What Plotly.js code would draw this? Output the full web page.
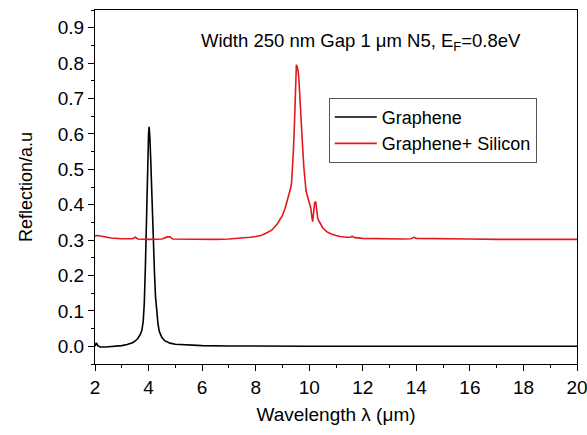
<!DOCTYPE html>
<html>
<head>
<meta charset="utf-8">
<script src="https://cdn.plot.ly/plotly-3.0.1.min.js"></script>
<style>html,body{margin:0;padding:0;background:#fff;}#chart{width:587px;height:435px;}</style>
</head>
<body>
<div id="chart"></div>
<script>
// Graphene (black)
const grapheneX = [2.0, 2.05, 2.1, 2.2, 2.4, 2.6, 2.8, 3.0, 3.2, 3.4, 3.5, 3.6, 3.7, 3.75, 3.8, 3.84, 3.88, 3.92, 3.96, 4.0, 4.02, 4.05, 4.08, 4.12, 4.15, 4.18, 4.22, 4.26, 4.3, 4.35, 4.4, 4.5, 4.6, 4.8, 5.0, 5.5, 6.0, 7.0, 8.0, 10, 12, 14, 16, 18, 20];
const grapheneY = [0.0, 0.01, 0.002, -0.002, -0.002, -0.001, 0.0, 0.002, 0.005, 0.01, 0.015, 0.022, 0.035, 0.045, 0.07, 0.12, 0.22, 0.38, 0.53, 0.6, 0.62, 0.59, 0.53, 0.42, 0.35, 0.3, 0.21, 0.14, 0.1, 0.065, 0.042, 0.025, 0.016, 0.009, 0.006, 0.003, 0.002, 0.001, 0.0, 0.0, 0.0, 0.0, 0.0, 0.0, 0.0];

// Graphene + Silicon (red)
const siliconX = [2.0, 2.1, 2.3, 2.6, 3.0, 3.4, 3.5, 3.6, 4.0, 4.5, 4.7, 4.8, 4.9, 5.5, 6.5, 7.0, 7.5, 7.8, 8.0, 8.2, 8.4, 8.6, 8.8, 8.9, 9.0, 9.1, 9.2, 9.25, 9.3, 9.34, 9.38, 9.41, 9.44, 9.46, 9.48, 9.5, 9.52, 9.55, 9.58, 9.61, 9.64, 9.68, 9.72, 9.76, 9.8, 9.84, 9.88, 9.92, 9.97, 10.02, 10.06, 10.1, 10.13, 10.16, 10.2, 10.24, 10.28, 10.32, 10.4, 10.5, 10.65, 10.8, 11.0, 11.15, 11.4, 11.55, 11.6, 11.7, 12.0, 12.5, 13.0, 13.5, 13.8, 13.9, 14.0, 14.5, 15, 16, 17, 18, 19, 20];
const siliconY = [0.312, 0.313, 0.31, 0.306, 0.304, 0.304, 0.308, 0.303, 0.302, 0.303, 0.309, 0.309, 0.303, 0.302, 0.302, 0.303, 0.305, 0.308, 0.31, 0.313, 0.32, 0.328, 0.345, 0.357, 0.37, 0.39, 0.415, 0.43, 0.445, 0.461, 0.5, 0.554, 0.61, 0.648, 0.7, 0.75, 0.795, 0.79, 0.78, 0.76, 0.71, 0.648, 0.6, 0.554, 0.505, 0.461, 0.44, 0.428, 0.413, 0.405, 0.39, 0.365, 0.352, 0.375, 0.405, 0.409, 0.38, 0.36, 0.349, 0.335, 0.324, 0.318, 0.313, 0.31, 0.308, 0.308, 0.311, 0.307, 0.305, 0.304, 0.304, 0.303, 0.304, 0.308, 0.305, 0.304, 0.303, 0.303, 0.302, 0.302, 0.302, 0.302];

const xTicks = [2, 4, 6, 8, 10, 12, 14, 16, 18, 20];
const yTicks = [0.0, 0.1, 0.2, 0.3, 0.4, 0.5, 0.6, 0.7, 0.8, 0.9];

const font = 'Liberation Sans, Arial, sans-serif';

const traces = [
  {x: grapheneX, y: grapheneY, type: 'scatter', mode: 'lines', name: 'Graphene',
   line: {color: '#000000', width: 1.6}},
  {x: siliconX, y: siliconY, type: 'scatter', mode: 'lines', name: 'Graphene+ Silicon',
   line: {color: '#e3181c', width: 1.6}}
];

const axisCommon = {
  showline: true, linecolor: '#000', linewidth: 1, mirror: true,
  ticks: 'outside', ticklen: 6, tickwidth: 1, tickcolor: '#000',
  showgrid: false, zeroline: false, ticklabeloverflow: 'allow',
  tickfont: {family: font, size: 19, color: '#000'}
};

const layout = {
  width: 587, height: 435,
  margin: {l: 95, r: 10, t: 10, b: 71},
  paper_bgcolor: '#ffffff', plot_bgcolor: '#ffffff',
  font: {family: font, color: '#000'},
  xaxis: Object.assign({}, axisCommon, {
    range: [2, 20], tickvals: xTicks, ticktext: xTicks.map(String),
    minor: {dtick: 1, ticks: 'outside', ticklen: 3, tickcolor: '#000'},
    title: {text: 'Wavelength λ (μm)', font: {family: font, size: 19}, standoff: 10}
  }),
  yaxis: Object.assign({}, axisCommon, {
    range: [-0.05, 0.95], tickvals: yTicks, ticktext: yTicks.map(v => v.toFixed(1)),
    minor: {dtick: 0.05, tick0: 0, ticks: 'outside', ticklen: 3, tickcolor: '#000'},
    title: {text: 'Reflection/a.u', font: {family: font, size: 18}, standoff: 20}
  }),
  showlegend: true,
  legend: {
    x: 0.485, y: 0.752, xanchor: 'left', yanchor: 'top',
    bgcolor: '#ffffff', bordercolor: '#555', borderwidth: 1,
    font: {family: font, size: 18, color: '#000'},
    itemwidth: 42, tracegroupgap: 0
  },
  annotations: [{
    text: 'Width 250 nm Gap 1 μm N5, E<sub>F</sub>=0.8eV',
    xref: 'paper', yref: 'paper', x: 0.552, y: 0.91,
    xanchor: 'center', yanchor: 'middle', showarrow: false,
    font: {family: font, size: 18.5, color: '#000'}
  }]
};

Plotly.newPlot('chart', traces, layout, {displayModeBar: false, staticPlot: true});
</script>
</body>
</html>
